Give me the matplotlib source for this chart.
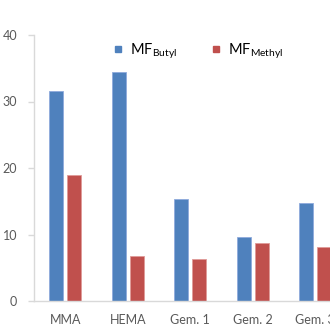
import matplotlib
matplotlib.use("Agg")
import matplotlib.pyplot as plt
import numpy as np
from matplotlib.lines import Line2D

categories = ["MMA", "HEMA", "Gem. 1", "Gem. 2", "Gem. 3"]
mf_butyl = [31.6, 34.4, 15.4, 9.6, 14.8]
mf_methyl = [19.0, 6.8, 6.3, 8.7, 8.1]
yticks = [0, 10, 20, 30, 40]

plt.rcParams['font.family'] = ['Lato', 'DejaVu Sans']
plt.rcParams['mathtext.fontset'] = 'custom'
plt.rcParams['mathtext.rm'] = 'Lato'

blue = "#4F81BD"
red = "#C0504D"
gray = "#595959"

fig = plt.figure(figsize=(3.3, 3.3), dpi=100)
ax = fig.add_axes([34/330, 1-301/330, (346.5-34)/330, (301-35)/330])

x = np.arange(len(categories))
w = 0.224
off = 0.144
ax.bar(x - off, mf_butyl, w, color=blue, edgecolor="#8FAADC", linewidth=0.6)
ax.bar(x + off, mf_methyl, w, color=red, edgecolor="#E09A98", linewidth=0.6)

ax.set_xlim(-0.5, len(categories) - 0.5)
ax.set_ylim(0, 40)
ax.set_yticks(yticks)
ax.set_yticklabels([str(t) for t in yticks])
ax.set_xticks(x)
ax.set_xticklabels(categories)
for s in ["top", "right"]:
    ax.spines[s].set_visible(False)
for s in ["left", "bottom"]:
    ax.spines[s].set_color("#D9D9D9")
    ax.spines[s].set_linewidth(1.0)
ax.tick_params(axis="y", colors="#D9D9D9", labelcolor=gray, labelsize=9, length=4, width=1, pad=8)
ax.tick_params(axis="x", length=0, labelcolor=gray, labelsize=9, pad=9)

handles = [Line2D([], [], marker="s", linestyle="none", color=blue, markersize=5),
           Line2D([], [], marker="s", linestyle="none", color=red, markersize=5)]
labels = [r"MF$_{\mathrm{Butyl}}$", r"MF$_{\mathrm{Methyl}}$"]
leg = ax.legend(handles, labels, ncol=2, frameon=False, loc="upper left",
                bbox_to_anchor=(98/330, 1-28/330), bbox_transform=fig.transFigure,
                fontsize=10.5, handletextpad=0.3, columnspacing=2.2, handlelength=1.0)

fig.savefig("out.png", dpi=100)
